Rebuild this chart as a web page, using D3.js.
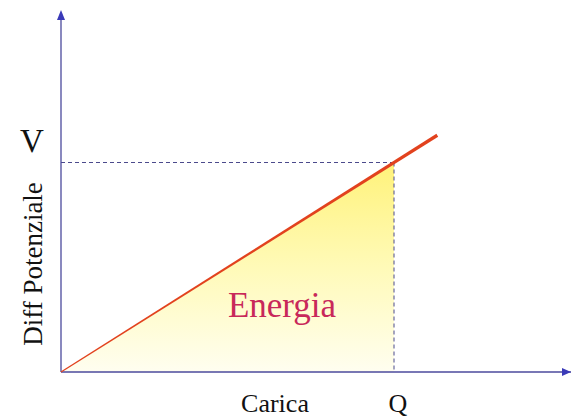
<!DOCTYPE html>
<html>
<head>
<meta charset="utf-8">
<script src="https://cdn.jsdelivr.net/npm/d3@7"></script>
<style>
  html, body { margin: 0; padding: 0; background: #fff; }
  svg { display: block; }
</style>
</head>
<body>
<svg id="chart"></svg>
<script>
// ---- data ----
const charge = [0, 1.13];          // Carica
const potential = [0, 1.13];       // Diff Potenziale (V = Q/C, C = 1)
const markQ = [1];                 // Q
const markV = [1];                 // V
const xLabels = ["Carica", "Q"];
const yLabels = ["Diff Potenziale", "V"];
const areaLabel = "Energia";

// ---- setup ----
const width = 572, height = 417;
const svg = d3.select("#chart").attr("width", width).attr("height", height);

const origin = { x: 61, y: 372 };
const x = d3.scaleLinear().domain([0, 1]).range([origin.x, 394]);
const y = d3.scaleLinear().domain([0, 1]).range([origin.y, 162.5]);
const xMax = x.invert(571);
const yMax = y.invert(10);

const axisColor = "#4b4a9c";
const font = "'Liberation Serif', 'Times New Roman', serif";

// gradient for energy area (yellow at top, fading down)
const defs = svg.append("defs");
const grad = defs.append("linearGradient")
    .attr("id", "energyGrad")
    .attr("gradientUnits", "userSpaceOnUse")
    .attr("x1", 0).attr("y1", y(markV[0]))
    .attr("x2", 0).attr("y2", y(0));
grad.append("stop").attr("offset", "0").attr("stop-color", "#fff27a");
grad.append("stop").attr("offset", "0.5").attr("stop-color", "#fffab8");
grad.append("stop").attr("offset", "1").attr("stop-color", "#fffef0");

const tri = [[0, 0], [markQ[0], markV[0]], [markQ[0], 0]];
svg.append("path")
    .attr("d", d3.line().x(d => x(d[0])).y(d => y(d[1]))(tri) + "Z")
    .attr("fill", "url(#energyGrad)");

// dashed guides
svg.append("line")
    .attr("x1", x(0)).attr("y1", y(markV[0]))
    .attr("x2", x(markQ[0])).attr("y2", y(markV[0]))
    .attr("stroke", "#4b4a8c").attr("stroke-width", 1)
    .attr("stroke-dasharray", "4,3");
svg.append("line")
    .attr("x1", x(markQ[0])).attr("y1", y(markV[0]))
    .attr("x2", x(markQ[0])).attr("y2", y(0))
    .attr("stroke", "#4b4a8c").attr("stroke-width", 1)
    .attr("stroke-dasharray", "4,3");

// axes
svg.append("line")
    .attr("x1", x(0)).attr("y1", y(0))
    .attr("x2", x(xMax)).attr("y2", y(0))
    .attr("stroke", axisColor).attr("stroke-width", 1.3);
svg.append("line")
    .attr("x1", x(0)).attr("y1", y(0))
    .attr("x2", x(0)).attr("y2", y(yMax) + 8)
    .attr("stroke", axisColor).attr("stroke-width", 1.3);

// arrowheads
svg.append("path")
    .attr("d", `M${x(0)},${y(yMax)} L${x(0) - 4},${y(yMax) + 10} L${x(0) + 4},${y(yMax) + 10}Z`)
    .attr("fill", "#3a3ab8");
svg.append("path")
    .attr("d", `M${x(xMax)},${y(0)} L${x(xMax) - 9},${y(0) - 4} L${x(xMax) - 9},${y(0) + 4}Z`)
    .attr("fill", "#3a3ab8");

// charge-potential line (tapered: thin at origin, thicker at end)
const p0 = [x(charge[0]), y(potential[0])];
const p1 = [x(charge[1]), y(potential[1])];
const dx = p1[0] - p0[0], dy = p1[1] - p0[1];
const len = Math.hypot(dx, dy);
const nx = -dy / len, ny = dx / len;
const w0 = 0.6, w1 = 1.7;
svg.append("path")
    .attr("d", `M${p0[0] + nx * w0},${p0[1] + ny * w0} L${p1[0] + nx * w1},${p1[1] + ny * w1} L${p1[0] - nx * w1},${p1[1] - ny * w1} L${p0[0] - nx * w0},${p0[1] - ny * w0}Z`)
    .attr("fill", "#e2421e");

// labels
svg.append("text")
    .attr("x", 282)
    .attr("y", 317)
    .attr("text-anchor", "middle")
    .attr("font-family", font).attr("font-size", 35)
    .attr("fill", "#c8285a")
    .text(areaLabel);

svg.append("text")
    .attr("x", 32).attr("y", 152)
    .attr("text-anchor", "middle")
    .attr("font-family", font).attr("font-size", 33)
    .attr("fill", "#111")
    .text(yLabels[1]);

svg.append("text")
    .attr("transform", `translate(42,264) rotate(-90)`)
    .attr("text-anchor", "middle")
    .attr("font-family", font).attr("font-size", 27)
    .attr("fill", "#111")
    .text(yLabels[0]);

svg.append("text")
    .attr("x", 275).attr("y", 412)
    .attr("text-anchor", "middle")
    .attr("font-family", font).attr("font-size", 26)
    .attr("fill", "#111")
    .text(xLabels[0]);

svg.append("text")
    .attr("x", x(markQ[0]) + 4).attr("y", 412)
    .attr("text-anchor", "middle")
    .attr("font-family", font).attr("font-size", 26)
    .attr("fill", "#111")
    .text(xLabels[1]);
</script>
</body>
</html>
